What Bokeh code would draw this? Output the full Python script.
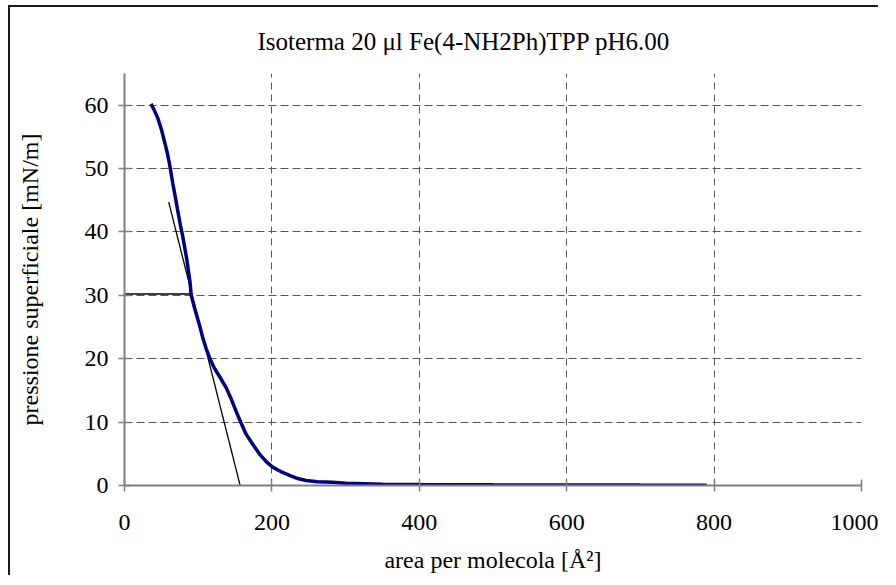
from bokeh.plotting import figure
from bokeh.models import FixedTicker, Range1d, Title
from bokeh.embed import file_html
from bokeh.resources import INLINE

# Isotherm data (area per molecule [Å^2], surface pressure [mN/m])
area = [36, 40, 45, 50, 54, 58, 61, 65.6, 69, 72, 76, 79, 84.5, 89, 90.5, 96, 101.8,
        106, 110.8, 116, 122, 130, 138, 145, 151.5, 158, 165, 174, 183, 192, 201,
        212, 224, 235, 246.5, 262, 282, 300, 350, 400, 450, 500, 600, 700, 790]
pressure = [60.2, 59.3, 58, 56.2, 54.4, 52.5, 50.8, 47.6, 45.5, 43.5, 41, 39.3, 35.7,
            32, 30, 27.6, 25.3, 23.4, 21.6, 20, 18.5, 17, 15.4, 13.6, 11.7, 9.9, 8.1,
            6.5, 5, 3.8, 2.9, 2.2, 1.6, 1.1, 0.8, 0.6, 0.5, 0.35, 0.2, 0.15, 0.12, 0.1,
            0.08, 0.06, 0.05]

# Tangent line (extrapolation to zero pressure)
tangent_x = [60, 158]
tangent_y = [44.7, -0.5]

# Horizontal marker at 30 mN/m
marker_x = [0, 90.5]
marker_y = [30.2, 30.2]

x_ticks = [0, 200, 400, 600, 800, 1000]
y_ticks = [0, 10, 20, 30, 40, 50, 60]

title_text = "Isoterma 20 \u03bcl Fe(4-NH2Ph)TPP pH6.00"
x_label = "area per molecola [\u00c5\u00b2]"
y_label = "pressione superficiale [mN/m]"

FONT = "Liberation Serif"

p = figure(width=870, height=570, output_backend="svg", toolbar_location=None,
           x_range=Range1d(0, 1000), y_range=Range1d(0, 65),
           min_border_left=114, min_border_right=19, min_border_top=65,
           min_border_bottom=92)
p.margin = (5, 0, 0, 8)
p.styles = {"border-top": "2px solid #1a1a1a", "border-left": "2px solid #1a1a1a"}

p.title = Title(text=title_text, align="left", offset=133, standoff=37,
                text_font=FONT, text_font_size="25px", text_font_style="normal",
                text_color="#000000")
p.outline_line_color = None
p.background_fill_color = "white"
p.border_fill_color = "white"

for ax in (p.xaxis, p.yaxis):
    ax.axis_line_color = "#808080"
    ax.axis_line_width = 2
    ax.major_tick_line_color = "#808080"
    ax.major_tick_line_width = 1.5
    ax.major_tick_in = 6
    ax.major_tick_out = 6
    ax.minor_tick_line_color = None
    ax.major_label_text_font = FONT
    ax.major_label_text_font_size = "24px"
    ax.major_label_text_color = "#000000"
    ax.axis_label_text_font = FONT
    ax.axis_label_text_font_size = "24px"
    ax.axis_label_text_font_style = "normal"
    ax.axis_label_text_color = "#000000"

p.xaxis.ticker = FixedTicker(ticks=x_ticks)
p.yaxis.ticker = FixedTicker(ticks=y_ticks)
p.xaxis.axis_label = x_label
p.yaxis.axis_label = y_label
p.xaxis.major_label_standoff = 23
p.xaxis.axis_label_standoff = 14
p.yaxis.major_label_standoff = 10
p.yaxis.axis_label_standoff = 39

p.xgrid.grid_line_color = "#555555"
p.xgrid.grid_line_dash = "7 5"
p.xgrid.grid_line_width = 1
p.ygrid.grid_line_color = "#555555"
p.ygrid.grid_line_dash = "8 4"
p.ygrid.grid_line_width = 1

p.line(marker_x, marker_y, line_color="black", line_width=1.5)
p.line(tangent_x, tangent_y, line_color="black", line_width=1.3)
p.line(area, pressure, line_color="#000080", line_width=3.5)

open("out.html", "w").write(file_html(p, INLINE))
